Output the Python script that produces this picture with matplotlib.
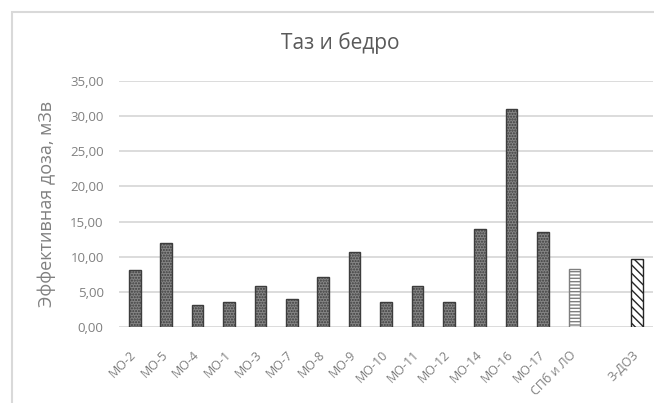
import numpy as np
import matplotlib.pyplot as plt
import matplotlib.transforms as mtransforms
from matplotlib.patches import Rectangle

plt.rcParams['font.family'] = ['Open Sans', 'DejaVu Sans']

categories = ['МО-2', 'МО-5', 'МО-4', 'МО-1', 'МО-3', 'МО-7', 'МО-8', 'МО-9',
              'МО-10', 'МО-11', 'МО-12', 'МО-14', 'МО-16', 'МО-17',
              'СПб и ЛО', '', 'З-ДОЗ']
doses = [8.1, 12.0, 3.1, 3.6, 5.9, 4.0, 7.1, 10.7,
         3.5, 5.8, 3.6, 14.0, 31.0, 13.5,
         8.2, np.nan, 9.7]
yticks = [0, 5, 10, 15, 20, 25, 30, 35]

fig = plt.figure(figsize=(6.54, 4.03), dpi=100)
W, H = 654, 403

# chart frame
fig.patches.append(Rectangle((12 / W, -0.1), 1.2, (H - 12) / H + 0.1,
                             transform=fig.transFigure, fill=False,
                             edgecolor='#d9d9d9', linewidth=1.5))

ax = fig.add_axes([119 / W, 1 - 327 / H, (653 - 119) / W, (327 - 81) / H])
x = np.arange(len(categories))

colors = ['#858585'] * 14 + ['white', 'white', 'white']
hatches = ['......'] * 14 + ['-----', '', '\\\\\\\\']
edges = ['#3d3d3d'] * 14 + ['#7f7f7f', '#404040', '#262626']
for xi, d, c, h, e in zip(x, doses, colors, hatches, edges):
    if np.isnan(d):
        continue
    ax.bar(xi, d, width=0.37, color=c, hatch=h, edgecolor=e,
           linewidth=1.0, zorder=3)

ax.set_xlim(-0.5, len(categories) - 0.5)
ax.set_ylim(0, 35)
ax.set_yticks(yticks)
ax.set_yticklabels([f'{v:.2f}'.replace('.', ',') for v in yticks])
ax.set_xticks(x)
ax.set_xticklabels(categories, rotation=45, ha='right', va='top',
                   rotation_mode='anchor')
ax.tick_params(length=0, colors='#808080', labelsize=9.5)
ax.tick_params(axis='x', pad=11, labelsize=9)
ax.tick_params(axis='y', pad=11)
ax.grid(axis='y', color='#d9d9d9', linewidth=1.3, zorder=0)
for s in ax.spines.values():
    s.set_visible(False)

# nudge the slanted category labels down and to the left
shift = mtransforms.ScaledTranslation(-5 / 100, -6 / 100, fig.dpi_scale_trans)
for lbl in ax.get_xticklabels():
    lbl.set_transform(lbl.get_transform() + shift)

fig.text(47 / W, 1 - 204 / H, 'Эффективная доза, мЗв', rotation=90,
         ha='center', va='center', color='#808080', fontsize=13)
fig.text(340 / W, 1 - 43 / H, 'Таз и бедро', ha='center', va='center',
         color='#595959', fontsize=15)

fig.savefig('out.png', dpi=100)
